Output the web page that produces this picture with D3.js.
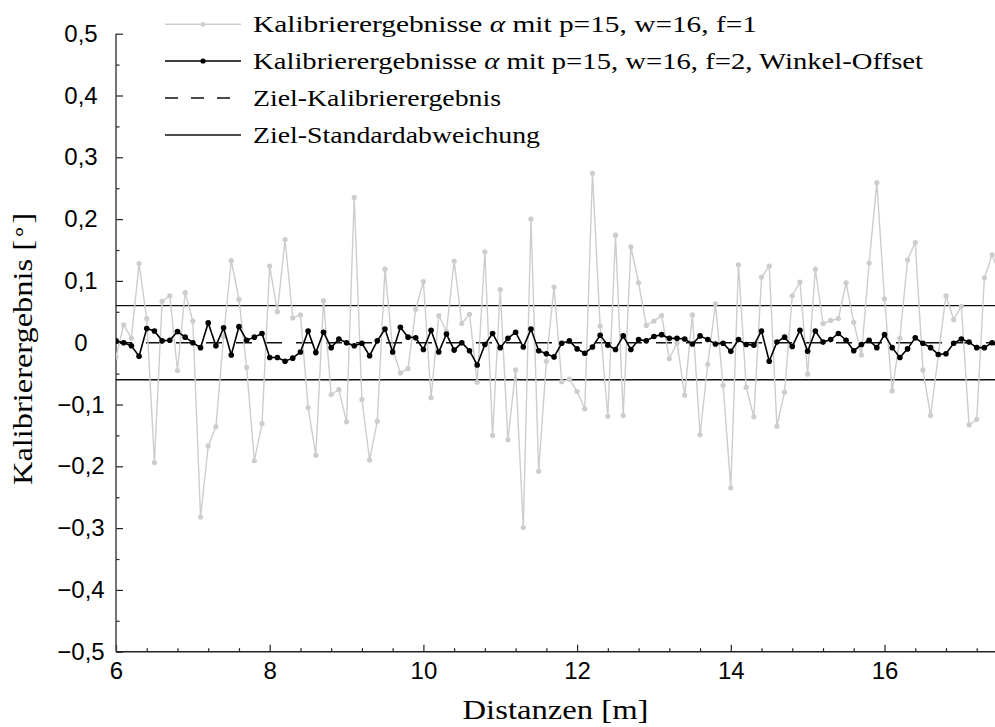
<!DOCTYPE html>
<html>
<head>
<meta charset="utf-8">
<script src="https://cdn.jsdelivr.net/npm/d3@7"></script>
<style>
  body { margin: 0; background: #fff; }
  svg { display: block; }
</style>
</head>
<body>
<div class="board"></div>
<script>
/*
=================================
DATA
=================================
*/
// distances start at 6 m, one sample every 0.1 m
var distStart = 6.0;
var distStep = 0.1;

// Kalibrierergebnisse, p=15, w=16, f=1 (grey)
var alphaF1 = [
  -0.023, 0.029, 0.007, 0.128, 0.039, -0.194, 0.067, 0.076, -0.045, 0.081,
  0.035, -0.282, -0.167, -0.136, 0.010, 0.133, 0.070, -0.040, -0.191, -0.131,
  0.124, 0.050, 0.167, 0.040, 0.045, -0.105, -0.182, 0.068, -0.084, -0.076,
  -0.128, 0.235, -0.092, -0.190, -0.127, 0.119, -0.010, -0.049, -0.042, 0.054,
  0.099, -0.089, 0.044, 0.018, 0.132, 0.031, 0.046, -0.064, 0.147, -0.150,
  0.086, -0.157, -0.044, -0.299, 0.200, -0.208, -0.030, 0.090, -0.063, -0.059,
  -0.079, -0.107, 0.274, 0.027, -0.119, 0.174, -0.118, 0.155, 0.097, 0.028,
  0.035, 0.044, -0.026, 0.000, -0.085, 0.045, -0.149, -0.035, 0.063, -0.069,
  -0.235, 0.126, -0.072, -0.120, 0.106, 0.124, -0.135, -0.080, 0.076, 0.098,
  -0.051, 0.119, 0.031, 0.036, 0.039, 0.097, 0.033, -0.020, 0.129, 0.259,
  0.071, -0.078, 0.007, 0.134, 0.162, -0.044, -0.118, -0.020, 0.076, 0.037,
  0.059, -0.133, -0.124, 0.105, 0.142, 0.110
];

// Kalibrierergebnisse, p=15, w=16, f=2, Winkel-Offset (black)
var alphaF2 = [
  0.003, 0.000, -0.005, -0.022, 0.023, 0.019, 0.003, 0.004, 0.018, 0.009,
  0.000, -0.008, 0.032, -0.005, 0.024, -0.020, 0.026, 0.004, 0.009, 0.015,
  -0.024, -0.024, -0.030, -0.025, -0.015, 0.019, -0.016, 0.017, -0.008, 0.006,
  0.000, -0.005, -0.001, -0.021, 0.003, 0.022, -0.015, 0.025, 0.009, 0.008,
  -0.011, 0.020, -0.015, 0.014, -0.012, 0.000, -0.013, -0.036, -0.003, 0.015,
  -0.008, 0.007, 0.017, -0.007, 0.022, -0.013, -0.018, -0.023, -0.001, 0.003,
  -0.010, -0.017, -0.007, 0.012, -0.004, -0.011, 0.011, -0.011, 0.005, 0.003,
  0.010, 0.013, 0.007, 0.007, 0.006, -0.002, 0.011, 0.005, -0.002, -0.001,
  -0.014, 0.005, -0.003, -0.004, 0.019, -0.030, 0.001, 0.009, -0.006, 0.020,
  -0.014, 0.019, 0.001, 0.005, 0.015, 0.004, -0.013, -0.003, 0.004, -0.008,
  0.013, -0.008, -0.024, -0.010, 0.008, -0.001, -0.008, -0.019, -0.018, -0.001,
  0.006, 0.001, -0.008, -0.008, 0.000, -0.008
];

var targetMean = 0;
var targetStd = 0.06;

var xMajorTicks = [6, 8, 10, 12, 14, 16];
var yMajorTicks = [-0.5, -0.4, -0.3, -0.2, -0.1, 0, 0.1, 0.2, 0.3, 0.4, 0.5];

var legendLabels = [
  ['Kalibrierergebnisse ', 'α', ' mit p=15, w=16, f=1'],
  ['Kalibrierergebnisse ', 'α', ' mit p=15, w=16, f=2, Winkel-Offset'],
  ['Ziel-Kalibrierergebnis'],
  ['Ziel-Standardabweichung']
];
var legendWidths = [504, 670, 248, 287];

/*
=================================
SETUP
=================================
*/
var W = 995, H = 727;
var plotLeft = 116, plotRight = 995, plotTop = 33.7, plotBottom = 651.7;

var grey = '#cdcdcd';
var serif = '"Liberation Serif", "Times New Roman", serif';
var sans = '"Liberation Sans", Arial, sans-serif';

var svg = d3.select('.board').append('svg')
  .attr('width', W)
  .attr('height', H);

var x = d3.scaleLinear().domain([6, 6 + (plotRight - plotLeft) / 76.85]).range([plotLeft, plotRight]);
var y = d3.scaleLinear().domain([-0.5, 0.5]).range([plotBottom, plotTop]);

var pts1 = alphaF1.map(function(v, i) { return { d: distStart + i * distStep, v: v }; });
var pts2 = alphaF2.map(function(v, i) { return { d: distStart + i * distStep, v: v }; });

svg.append('clipPath').attr('id', 'plotclip')
  .append('rect')
  .attr('x', plotLeft).attr('y', plotTop - 5)
  .attr('width', plotRight - plotLeft).attr('height', plotBottom - plotTop + 10);

var fmtY = function(d) {
  if (Math.abs(d) < 1e-9) return '0';
  return (d < 0 ? '\u2212' : '') + d3.format('.1f')(Math.abs(d)).replace('.', ',');
};
var fmtX = d3.format('d');

/*
=================================
AXES
=================================
*/
var xMinor = d3.range(6, 17.6, 0.4).filter(function(v) {
  return Math.abs(v / 2 - Math.round(v / 2)) > 0.01;
});
var yMinor = d3.range(-0.45, 0.5, 0.1);

var gx = svg.append('g')
  .attr('transform', 'translate(0,' + plotBottom + ')')
  .call(d3.axisBottom(x).tickValues(xMajorTicks).tickSize(-7).tickPadding(10).tickFormat(fmtX));
gx.select('.domain').remove();
gx.selectAll('text').style('font-family', sans).style('font-size', '24px').attr('fill', '#000');

svg.append('g')
  .attr('transform', 'translate(0,' + plotBottom + ')')
  .call(d3.axisBottom(x).tickValues(xMinor).tickSize(-3.5).tickFormat(''))
  .select('.domain').remove();

var gy = svg.append('g')
  .attr('transform', 'translate(' + plotLeft + ',0)')
  .call(d3.axisLeft(y).tickValues(yMajorTicks).tickSize(-7).tickFormat(fmtY));
gy.select('.domain').remove();
gy.selectAll('text')
  .attr('x', -35)
  .attr('text-anchor', 'middle')
  .style('font-family', sans).style('font-size', '24px').attr('fill', '#000');

svg.append('g')
  .attr('transform', 'translate(' + plotLeft + ',0)')
  .call(d3.axisLeft(y).tickValues(yMinor).tickSize(-3.5).tickFormat(''))
  .select('.domain').remove();

svg.selectAll('.tick line').attr('stroke', '#222').attr('stroke-width', 1.2);

// axis lines
svg.append('line')
  .attr('x1', plotLeft).attr('x2', plotRight).attr('y1', plotBottom).attr('y2', plotBottom)
  .attr('stroke', '#222').attr('stroke-width', 1.5);
svg.append('line')
  .attr('x1', plotLeft).attr('x2', plotLeft).attr('y1', plotTop).attr('y2', plotBottom)
  .attr('stroke', '#444').attr('stroke-width', 1.5);

/*
=================================
REFERENCE LINES
=================================
*/
var plot = svg.append('g').attr('clip-path', 'url(#plotclip)');

[targetStd, -targetStd].forEach(function(s) {
  plot.append('line')
    .attr('x1', x.range()[0]).attr('x2', x.range()[1])
    .attr('y1', y(targetMean + s)).attr('y2', y(targetMean + s))
    .attr('stroke', '#111').attr('stroke-width', 1.4);
});

plot.append('line')
  .attr('x1', x.range()[0]).attr('x2', x.range()[1])
  .attr('y1', y(targetMean)).attr('y2', y(targetMean))
  .attr('stroke', '#111').attr('stroke-width', 1.4)
  .attr('stroke-dasharray', '16,14');

/*
=================================
SERIES
=================================
*/
var line = d3.line().x(function(d) { return x(d.d); }).y(function(d) { return y(d.v); });

plot.append('path').datum(pts1)
  .attr('d', line).attr('fill', 'none')
  .attr('stroke', grey).attr('stroke-width', 1.4);
plot.selectAll('circle.f1').data(pts1).enter().append('circle')
  .attr('class', 'f1')
  .attr('cx', function(d) { return x(d.d); })
  .attr('cy', function(d) { return y(d.v); })
  .attr('r', 2.6).attr('fill', grey);

plot.append('path').datum(pts2)
  .attr('d', line).attr('fill', 'none')
  .attr('stroke', '#000').attr('stroke-width', 1.6);
plot.selectAll('circle.f2').data(pts2).enter().append('circle')
  .attr('class', 'f2')
  .attr('cx', function(d) { return x(d.d); })
  .attr('cy', function(d) { return y(d.v); })
  .attr('r', 2.8).attr('fill', '#000');

/*
=================================
AXIS TITLES
=================================
*/
svg.append('text')
  .attr('x', (plotLeft + plotRight) / 2).attr('y', 719)
  .attr('text-anchor', 'middle')
  .attr('textLength', 186).attr('lengthAdjust', 'spacingAndGlyphs')
  .style('font-family', serif).style('font-size', '28px')
  .text('Distanzen [m]');

var yt = svg.append('text')
  .attr('transform', 'translate(32,349) rotate(-90)')
  .attr('text-anchor', 'middle')
  .attr('textLength', 272).attr('lengthAdjust', 'spacingAndGlyphs')
  .style('font-family', serif).style('font-size', '28px');
yt.append('tspan').text('Kalibrierergebnis [');
yt.append('tspan').attr('dy', -6).style('font-size', '22px').text('\u2218');
yt.append('tspan').attr('dy', 6).text(']');

/*
=================================
LEGEND
=================================
*/
var legY = [24.3, 61, 98, 135];
var lx0 = 165, lx1 = 241, tx = 253;

legendLabels.forEach(function(parts, i) {
  var g = svg.append('g');
  var ly = legY[i];
  var ln = g.append('line')
    .attr('x1', lx0).attr('x2', lx1).attr('y1', ly).attr('y2', ly)
    .attr('stroke-width', 1.4);
  if (i === 0) {
    ln.attr('stroke', grey);
    g.append('circle').attr('cx', (lx0 + lx1) / 2).attr('cy', ly).attr('r', 2.4).attr('fill', grey);
  } else if (i === 1) {
    ln.attr('stroke', '#000');
    g.append('circle').attr('cx', (lx0 + lx1) / 2).attr('cy', ly).attr('r', 2.6).attr('fill', '#000');
  } else if (i === 2) {
    ln.attr('stroke', '#111').attr('stroke-dasharray', '13,13');
  } else {
    ln.attr('stroke', '#111');
  }
  var t = g.append('text')
    .attr('x', tx).attr('y', ly + 8)
    .attr('textLength', legendWidths[i]).attr('lengthAdjust', 'spacingAndGlyphs')
    .style('font-family', serif).style('font-size', '24px');
  parts.forEach(function(p) {
    var s = t.append('tspan').text(p);
    if (p === 'α') s.style('font-style', 'italic');
  });
});
</script>
</body>
</html>
